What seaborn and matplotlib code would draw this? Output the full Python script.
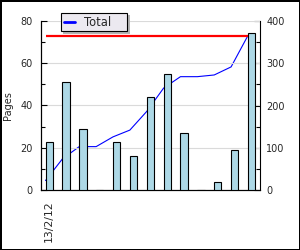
import numpy as np
import pandas as pd
import matplotlib
matplotlib.use("Agg")
import matplotlib.pyplot as plt
from matplotlib.ticker import MultipleLocator, FixedLocator
from matplotlib.lines import Line2D
import seaborn as sns

# ---- data ----
labels = ["13/2/12", "", "", "", "", "", "", "", "", "", "", "", ""]
pages = [23, 51, 29, 0, 23, 16, 44, 55, 27, 0, 4, 19, 74]
totals = [23, 74, 103, 103, 126, 142, 186, 241, 268, 268, 272, 291, 365]
limit = 365

sns.set_style("white")
plt.rcParams["font.family"] = ["DejaVu Sans"]

n = len(pages)
slot = np.arange(n)
df = pd.DataFrame({"slot": slot, "pages": pages, "total": totals})
bar_w = 0.43
df["line_x"] = df["slot"] - bar_w / 2

fig = plt.figure(figsize=(3.0, 2.5), dpi=100)
fig.patch.set_facecolor("white")
fig.patch.set_edgecolor("black")
fig.patch.set_linewidth(2)

ax = fig.add_axes([0.1357, 0.2388, 0.7310, 0.6784])
ax2 = ax.twinx()

sns.barplot(data=df, x="slot", y="pages", ax=ax, color="#ADD8E6", saturation=1,
            width=bar_w, edgecolor="black", linewidth=0.8, zorder=3)
sns.lineplot(data=df, x="line_x", y="total", ax=ax2, color="#0000FF", linewidth=0.8,
             legend=False)
ax2.hlines(limit, df["line_x"].iloc[0], df["line_x"].iloc[-1], color="#FF0000", linewidth=1.6)

# bars above line
ax.set_zorder(ax2.get_zorder() + 1)
ax.patch.set_visible(False)
ax2.patch.set_facecolor("white")

ax.set_xlim(-0.5, n - 0.5)
ax.set_ylim(0, 80)
ax2.set_ylim(0, 400)

ax.yaxis.set_major_locator(MultipleLocator(20))
ax.yaxis.set_minor_locator(MultipleLocator(10))
ax2.yaxis.set_major_locator(MultipleLocator(100))
ax2.yaxis.set_minor_locator(MultipleLocator(50))

ax.set_xticks(slot)
ax.set_xticklabels(labels, rotation=90, fontsize=7.8)
ax.xaxis.set_minor_locator(FixedLocator(slot[:-1] + 0.5))
ax.tick_params(axis="x", which="major", length=0, pad=7)
ax.tick_params(axis="x", which="minor", direction="in", length=4, width=0.8, color="black")

ax.tick_params(axis="y", which="major", direction="in", length=4, width=0.8, pad=6,
               labelsize=7, left=True, color="black")
ax.tick_params(axis="y", which="minor", direction="in", length=3, width=0.8, left=True,
               color="black")
ax2.tick_params(axis="y", which="major", direction="in", length=4, width=0.8, pad=4.5,
                labelsize=7, right=True, color="black")
ax2.tick_params(axis="y", which="minor", direction="in", length=3, width=0.8, right=True,
                color="black")

ax.grid(axis="y", which="major", color="#DADADA", linewidth=0.8, zorder=0)
ax2.grid(False)
ax.set_axisbelow(True)

for a in (ax, ax2):
    a.spines["top"].set_visible(False)
    for s in ("left", "right", "bottom"):
        a.spines[s].set_color("black")
        a.spines[s].set_linewidth(0.8)
ax.spines["right"].set_visible(False)

ax.set_xlabel("")
ax2.set_xlabel("")
ax2.set_ylabel("")
ax.set_ylabel("Pages", fontsize=7)
ax.yaxis.set_label_coords(-0.125, 0.5)

handle = Line2D([0], [0], color="#0000FF", linewidth=2)
leg = fig.legend([handle], ["Total"], loc="upper left",
                 bbox_to_anchor=(60.7 / 300, 1 - 30.3 / 250, 66.6 / 300, 17.6 / 250),
                 mode="expand", borderaxespad=0, fontsize=8.3, frameon=True, fancybox=False,
                 facecolor="#ECE9F0", edgecolor="black", framealpha=1,
                 handlelength=1.0, handletextpad=0.75, borderpad=0.25,
                 shadow={"facecolor": "#B4B4B4", "edgecolor": "none", "alpha": 1})
leg.get_frame().set_linewidth(0.8)

fig.savefig("out.png", dpi=100)
